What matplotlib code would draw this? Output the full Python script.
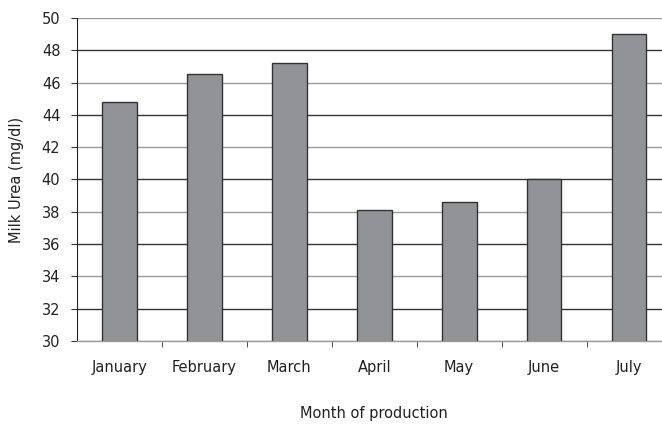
import matplotlib
matplotlib.use("Agg")
import matplotlib.pyplot as plt
import numpy as np

months = ["January", "February", "March", "April", "May", "June", "July"]
urea = [44.8, 46.55, 47.2, 38.1, 38.6, 40.0, 49.0]
y_ticks = [30, 32, 34, 36, 38, 40, 42, 44, 46, 48, 50]

plt.rcParams["font.family"] = "DejaVu Sans"

fig = plt.figure(figsize=(6.62, 4.24), dpi=100)
ax = fig.add_axes([0.1163, 0.1958, 0.898, 0.7618])

x = np.arange(len(months))
ax.bar(x, urea, width=0.41, color="#929397", edgecolor="#333333", linewidth=1, zorder=3)

ax.set_xlim(-0.5, len(months) - 0.5)
ax.set_ylim(30, 50)
ax.set_yticks(y_ticks)
ax.set_xticks(x)
ax.set_xticklabels(months, fontsize=10.5, color="#222222")
ax.tick_params(axis="x", length=0, pad=14)
ax.set_xticks(np.arange(len(months) - 1) + 0.5, minor=True)
ax.tick_params(axis="x", which="minor", length=4, direction="out", color="#333333")
ax.tick_params(axis="y", labelsize=10.5, length=4, pad=8, direction="out", color="#333333", labelcolor="#222222")

# gridlines (alternating shades like the scanned original)
for i, t in enumerate(y_ticks):
    col = "#9a9a9a" if i % 2 == 0 else "#333333"
    ax.axhline(t, color=col, linewidth=1.0, zorder=1)

for s in ["top", "right"]:
    ax.spines[s].set_visible(False)
ax.spines["left"].set_color("#222222")
ax.spines["bottom"].set_color("#9a9a9a")
ax.spines["bottom"].set_linewidth(1.0)

ax.set_ylabel("Milk Urea (mg/dl)", fontsize=10.5, color="#222222", labelpad=13)
ax.set_xlabel("Month of production", fontsize=10.5, color="#222222", labelpad=22)

fig.savefig("out.png", dpi=100)
